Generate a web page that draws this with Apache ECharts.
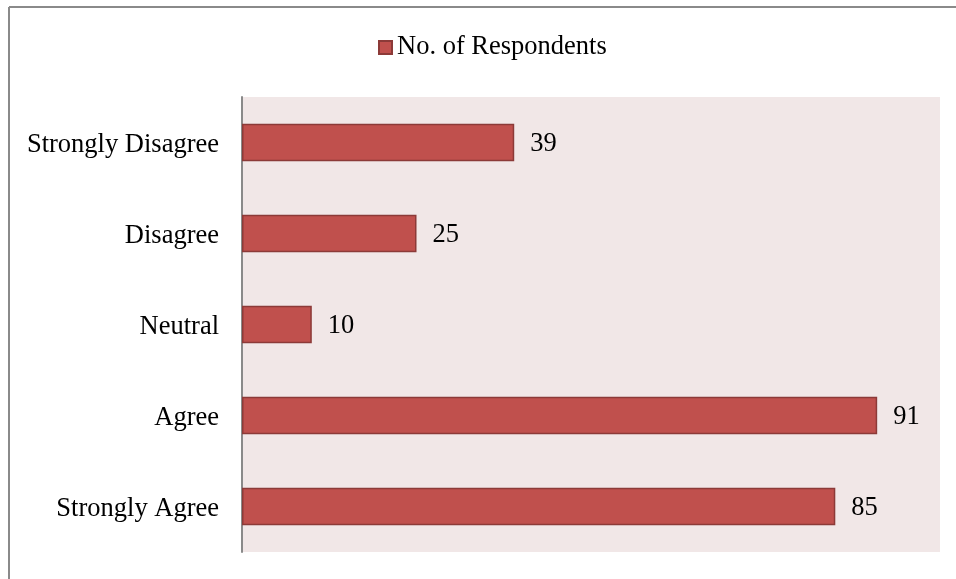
<!DOCTYPE html>
<html>
<head>
<meta charset="utf-8">
<script src="https://cdn.jsdelivr.net/npm/echarts@6/dist/echarts.min.js"></script>
<style>
  html, body { margin: 0; padding: 0; background: #ffffff; }
  #chart { width: 956px; height: 579px; }
</style>
</head>
<body>
<div id="chart"></div>
<script>
// Survey responses, listed bottom to top as drawn on the category axis
const categories = ['Strongly Agree', 'Agree', 'Neutral', 'Disagree', 'Strongly Disagree'];
const respondents = [85, 91, 10, 25, 39];
const seriesName = 'No. of Respondents';

const serif = '"Liberation Serif", "Times New Roman", serif';

const chart = echarts.init(document.getElementById('chart'), null, { renderer: 'canvas' });

chart.setOption({
  animation: false,
  backgroundColor: '#ffffff',
  textStyle: { fontFamily: serif },
  graphic: [
    // outer frame (left and top edges visible)
    { type: 'line', shape: { x1: 9, y1: 7, x2: 956, y2: 7 }, style: { stroke: '#8a8a8a', lineWidth: 2 } },
    { type: 'line', shape: { x1: 9, y1: 7, x2: 9, y2: 579 }, style: { stroke: '#8a8a8a', lineWidth: 2 } }
  ],
  legend: {
    data: [seriesName],
    left: 373,
    top: 29,
    icon: 'rect',
    itemWidth: 13,
    itemHeight: 13,
    itemGap: 5,
    textStyle: { fontFamily: serif, fontSize: 26.5, color: '#000000' }
  },
  grid: {
    left: 242,
    right: 16,
    top: 97,
    bottom: 27,
    show: true,
    backgroundColor: '#F1E7E7',
    borderWidth: 0,
    containLabel: false
  },
  xAxis: {
    type: 'value',
    min: 0,
    max: 100,
    axisLine: { show: false },
    axisTick: { show: false },
    axisLabel: { show: false },
    splitLine: { show: false }
  },
  yAxis: {
    type: 'category',
    data: categories,
    axisLine: { show: true, lineStyle: { color: '#8a8a8a', width: 2 } },
    axisTick: { show: false },
    axisLabel: {
      margin: 23,
      formatter: '{c|{value}}',
      rich: {
        c: { fontFamily: serif, fontSize: 26.5, color: '#000000', padding: [5, 0, 0, 0] }
      }
    },
    splitLine: { show: false }
  },
  series: [{
    name: seriesName,
    type: 'bar',
    data: respondents,
    barCategoryGap: '59%',
    itemStyle: {
      color: '#C0504D',
      borderColor: '#8C3A38',
      borderWidth: 1.5
    },
    label: {
      show: true,
      position: 'right',
      distance: 16,
      offset: [0, 2],
      fontFamily: serif,
      fontSize: 26.5,
      color: '#000000'
    }
  }]
});
</script>
</body>
</html>
